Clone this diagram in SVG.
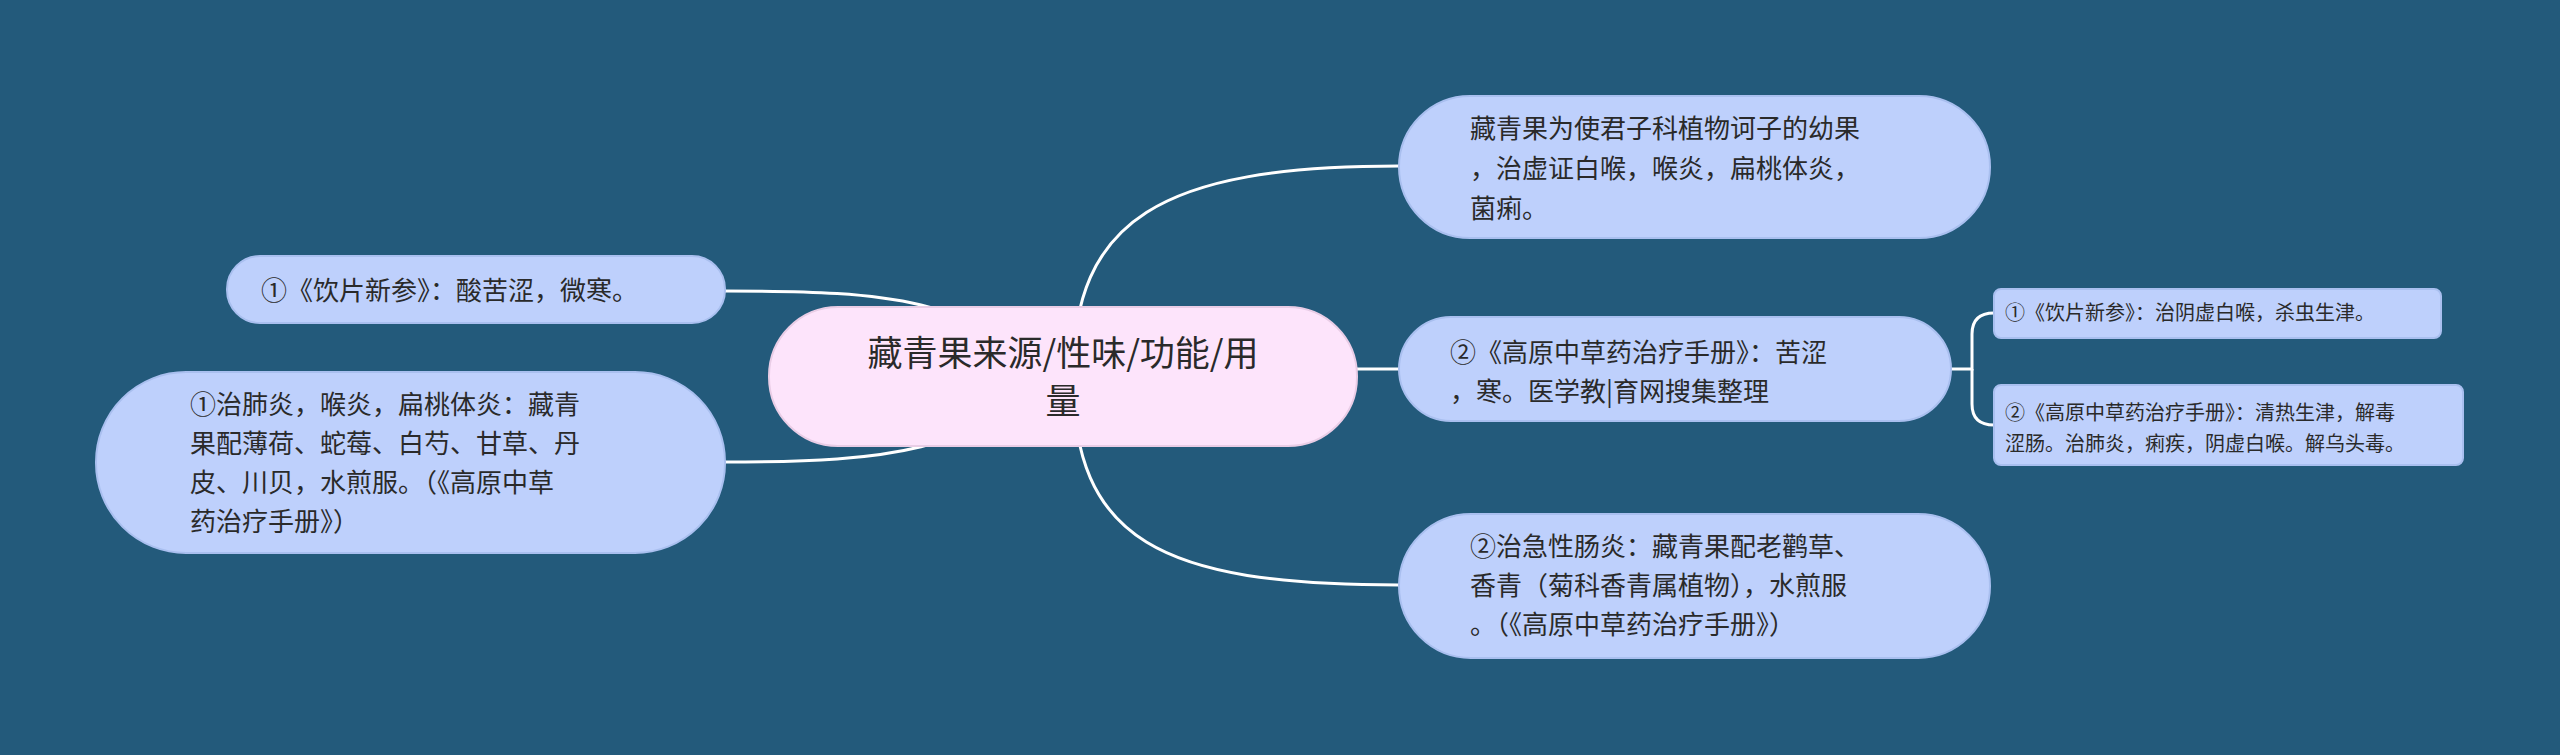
<svg xmlns="http://www.w3.org/2000/svg" width="2560" height="755" viewBox="0 0 2560 755">
<style>
.n{fill:#bed0fc;stroke:#a9bfef;stroke-width:2}
.c{fill:#fde4fb;stroke:#e9cde6;stroke-width:2}
text{font-family:"Noto Sans CJK SC","Noto Sans",sans-serif;fill:#2a2a2a}
.t{font-size:26px}
.s{font-size:20px}
.line{fill:none;stroke:#ffffff;stroke-width:3}
</style>
<rect width="2560" height="755" fill="#235a7b"/>
<g id="connectors">
<path class="line" d="M725,291 C900,291 960,300 1063,376"/>
<path class="line" d="M725,462 C900,462 960,450 1063,376"/>
<path class="line" d="M1073,376 C1073,220 1160,166 1399,166"/>
<path class="line" d="M1357,369 H1399"/>
<path class="line" d="M1073,376 C1073,540 1160,585 1399,585"/>
<path class="line" d="M1951,369 H1972 V334 Q1972,313 1994,313"/>
<path class="line" d="M1972,369 V404 Q1972,425 1994,425"/>
</g>
<g id="center">
<rect class="c" x="769" y="307" width="588" height="139" rx="69"/>
<text x="1063" y="366" text-anchor="middle" font-size="35">藏青果来源/性味/功能/用</text>
<text x="1063" y="414" text-anchor="middle" font-size="35">量</text>
</g>
<g id="left1">
<rect class="n" x="227" y="256" width="498" height="67" rx="33"/>
<text class="t" x="261" y="300">①《饮片新参》：酸苦涩，微寒。</text>
</g>
<g id="left2">
<rect class="n" x="96" y="372" width="629" height="181" rx="90"/>
<text class="t" x="190" y="414">①治肺炎，喉炎，扁桃体炎：藏青</text>
<text class="t" x="190" y="453">果配薄荷、蛇莓、白芍、甘草、丹</text>
<text class="t" x="190" y="492">皮、川贝，水煎服。（《高原中草</text>
<text class="t" x="190" y="531">药治疗手册》）</text>
</g>
<g id="right1">
<rect class="n" x="1399" y="96" width="591" height="142" rx="71"/>
<text class="t" x="1470" y="138">藏青果为使君子科植物诃子的幼果</text>
<text class="t" x="1470" y="178">，治虚证白喉，喉炎，扁桃体炎，</text>
<text class="t" x="1470" y="218">菌痢。</text>
</g>
<g id="right2">
<rect class="n" x="1399" y="317" width="552" height="104" rx="52"/>
<text class="t" x="1450" y="362">②《高原中草药治疗手册》：苦涩</text>
<text class="t" x="1450" y="401">，寒。医学教|育网搜集整理</text>
</g>
<g id="sub1">
<rect class="n" x="1994" y="289" width="447" height="49" rx="7"/>
<text class="s" x="2005" y="320">①《饮片新参》：治阴虚白喉，杀虫生津。</text>
</g>
<g id="sub2">
<rect class="n" x="1994" y="385" width="469" height="80" rx="7"/>
<text class="s" x="2005" y="420">②《高原中草药治疗手册》：清热生津，解毒</text>
<text class="s" x="2005" y="451">涩肠。治肺炎，痢疾，阴虚白喉。解乌头毒。</text>
</g>
<g id="right3">
<rect class="n" x="1399" y="514" width="591" height="144" rx="72"/>
<text class="t" x="1470" y="556">②治急性肠炎：藏青果配老鹳草、</text>
<text class="t" x="1470" y="595">香青（菊科香青属植物），水煎服</text>
<text class="t" x="1470" y="634">。（《高原中草药治疗手册》）</text>
</g>
</svg>
